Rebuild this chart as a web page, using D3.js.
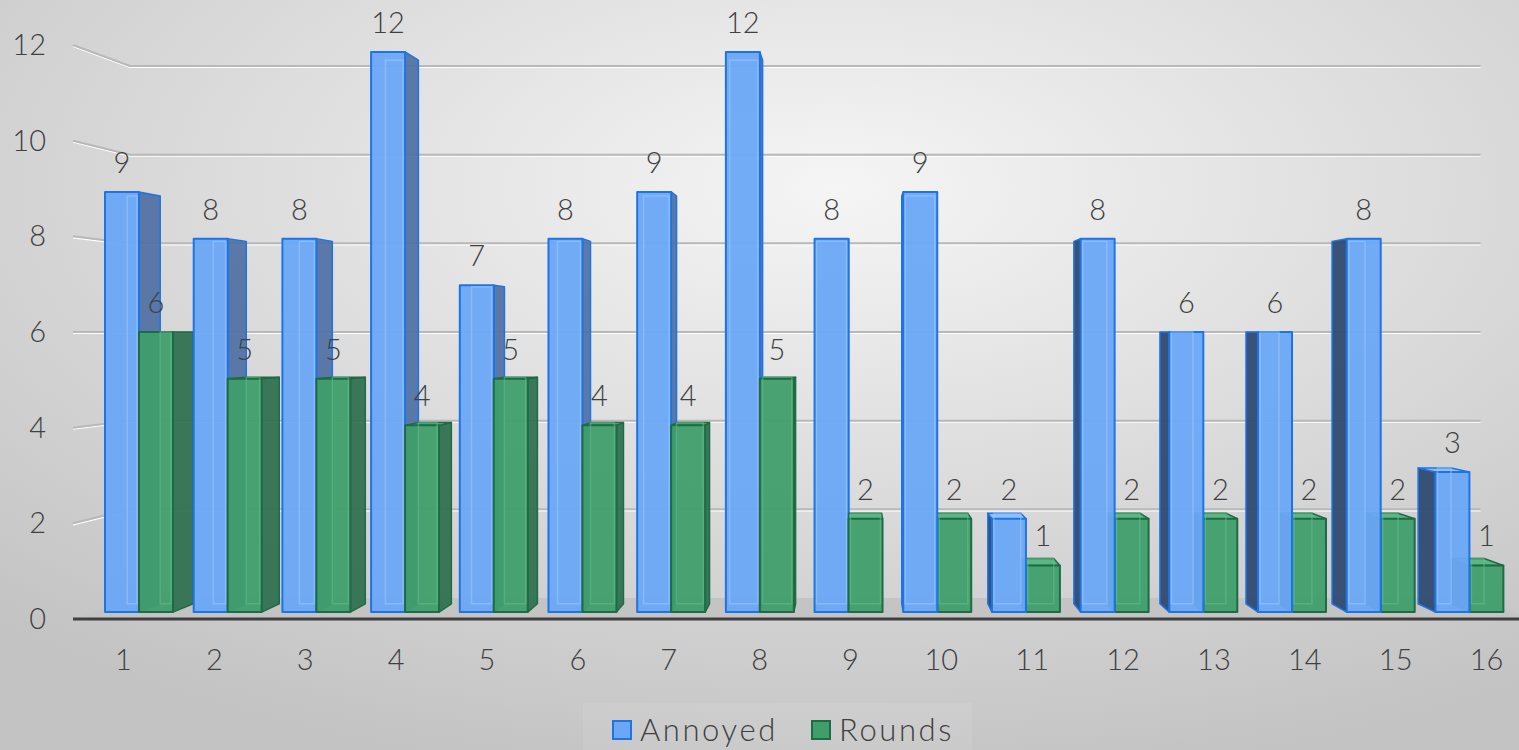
<!DOCTYPE html>
<html>
<head>
<meta charset="utf-8">
<script src="https://cdn.jsdelivr.net/npm/d3@7"></script>
<style>
  html, body { margin: 0; padding: 0; overflow: hidden; }
  svg { display: block; font-family: Lato, "Open Sans", sans-serif; font-weight: 300; }
</style>
</head>
<body>
<div id="chart"></div>
<script>

// input data
const categories = ['1', '2', '3', '4', '5', '6', '7', '8', '9', '10', '11', '12', '13', '14', '15', '16'];
const annoyed = [9, 8, 8, 12, 7, 8, 9, 12, 8, 9, 2, 8, 6, 6, 8, 3];
const rounds = [6, 5, 5, 4, 5, 4, 4, 5, 2, 2, 1, 2, 2, 2, 2, 1];
const seriesNames = ['Annoyed', 'Rounds'];
const yTicks = [0, 2, 4, 6, 8, 10, 12];

const width = 1519,
height = 750;

const svg = d3.select('#chart')
    .append('svg')
    .attr('width', width)
    .attr('height', height);

// background: soft radial grey
const defs = svg.append('defs');
const bg = defs.append('radialGradient')
    .attr('id', 'bg')
    .attr('cx', '55%')
    .attr('cy', '25%')
    .attr('r', '80%');
bg.append('stop').attr('offset', '0%').attr('stop-color', '#f5f5f5');
bg.append('stop').attr('offset', '100%').attr('stop-color', '#c3c3c3');

svg.append('rect')
    .attr('width', width)
    .attr('height', height)
    .attr('fill', 'url(#bg)');

// perspective: every point is pulled towards a vanishing point by a depth factor s
const VP = [853, 332];
const project = (wx, wy, s) => [VP[0] + (wx - VP[0]) * s, VP[1] + (wy - VP[1]) * s];
const poly = pts => 'M' + pts.map(p => p.join(',')).join('L') + 'Z';

const sFloorFront = 1, sFloorBack = 0.927;
const sBarFront = 0.976, sBarBack = 0.947;
const wallX = 73;

// scales in "world" coordinates (front plane)
const x = d3.scaleBand()
    .domain(categories)
    .range([76, 1530]);

const xSeries = d3.scaleBand()
    .domain(seriesNames)
    .range([0, x.bandwidth()])
    .paddingInner(0)
    .paddingOuter(0.305);

const y = d3.scaleLinear()
    .domain([0, 12])
    .range([619, 45]);

// FLOOR
svg.append('path')
    .attr('d', poly([
        project(wallX, y(0), sFloorFront),
        project(x.range()[1], y(0), sFloorFront),
        project(x.range()[1], y(0), sFloorBack),
        project(wallX, y(0), sFloorBack)
    ]))
    .attr('fill', '#c4c4c4');

// GRIDLINES: left wall segment + back wall
const grid = svg.append('g');
yTicks.filter(d => d > 0).forEach(t => {
    const pts = [
        project(wallX, y(t), sFloorFront),
        project(wallX, y(t), sFloorBack),
        project(x.range()[1], y(t), sFloorBack)
    ];
    grid.append('path')
        .attr('d', 'M' + pts.map(p => [p[0], p[1] + 1.5].join(',')).join('L'))
        .attr('fill', 'none')
        .attr('stroke', '#ffffff')
        .attr('stroke-width', 1.2);
    grid.append('path')
        .attr('d', 'M' + pts.map(p => p.join(',')).join('L'))
        .attr('fill', 'none')
        .attr('stroke', '#b8b8b8')
        .attr('stroke-width', 2);
});

// BARS
const styles = {
    Annoyed: { front: '#6aa8f7', stroke: '#1e74e6', sideR: '#4e70a3', sideL: '#2e4a72', top: '#8fc0fa', inner: '#9cc8ff' },
    Rounds: { front: '#3f9e6c', stroke: '#1f6b44', sideR: '#2d6f4d', sideL: '#245b3f', top: '#5bb585', inner: '#62c08e' }
};

const bars = [];
categories.forEach((c, i) => {
    [annoyed[i], rounds[i]].forEach((v, j) => {
        const name = seriesNames[j];
        const x0 = x(c) + xSeries(name);
        const x1 = x0 + xSeries.bandwidth();
        bars.push({ c, name, v, x0, x1 });
    });
});

// paint far-from-centre bars first so nearer ones cover their sides
bars.sort((a, b) => Math.abs((b.x0 + b.x1) / 2 - VP[0]) - Math.abs((a.x0 + a.x1) / 2 - VP[0]));

const gBars = svg.append('g');
bars.forEach(d => {
    const st = styles[d.name];
    const y0 = y(0), y1 = y(d.v);
    const g = gBars.append('g');

    // side face facing the vanishing point
    if (d.x1 < VP[0]) {
        g.append('path')
            .attr('d', poly([project(d.x1, y1, sBarFront), project(d.x1, y1, sBarBack), project(d.x1, y0, sBarBack), project(d.x1, y0, sBarFront)]))
            .attr('fill', st.sideR)
            .attr('fill-opacity', 0.92)
            .attr('stroke', st.stroke)
            .attr('stroke-width', 1.5)
            .attr('stroke-linejoin', 'round');
    } else if (d.x0 > VP[0]) {
        g.append('path')
            .attr('d', poly([project(d.x0, y1, sBarFront), project(d.x0, y1, sBarBack), project(d.x0, y0, sBarBack), project(d.x0, y0, sBarFront)]))
            .attr('fill', st.sideL)
            .attr('fill-opacity', 0.95)
            .attr('stroke', st.stroke)
            .attr('stroke-width', 1.5)
            .attr('stroke-linejoin', 'round');
    }

    // top face only visible when below the horizon
    if (y1 > VP[1]) {
        g.append('path')
            .attr('d', poly([project(d.x0, y1, sBarFront), project(d.x1, y1, sBarFront), project(d.x1, y1, sBarBack), project(d.x0, y1, sBarBack)]))
            .attr('fill', st.top)
            .attr('stroke', st.stroke)
            .attr('stroke-width', 1.5)
            .attr('stroke-linejoin', 'round');
    }

    // front face
    g.append('path')
        .attr('d', poly([project(d.x0, y1, sBarFront), project(d.x1, y1, sBarFront), project(d.x1, y0, sBarFront), project(d.x0, y0, sBarFront)]))
        .attr('fill', st.front)
        .attr('fill-opacity', 0.95)
        .attr('stroke', st.stroke)
        .attr('stroke-width', 2)
        .attr('stroke-linejoin', 'round');

    // back edges seen through the glassy front
    const bTL = project(d.x0, y1, sBarBack), bTR = project(d.x1, y1, sBarBack);
    const bBL = project(d.x0, y0, sBarBack), bBR = project(d.x1, y0, sBarBack);
    const fL = project(d.x0, y1, sBarFront)[0], fR = project(d.x1, y1, sBarFront)[0];
    const clamp = p => [Math.max(fL + 2, Math.min(fR - 2, p[0])), p[1]];
    g.append('path')
        .attr('d', poly([clamp(bTL), clamp(bTR), clamp(bBR), clamp(bBL)]))
        .attr('fill', 'none')
        .attr('stroke', st.inner)
        .attr('stroke-opacity', 0.55)
        .attr('stroke-width', 1.5);
});

// floor front edge
svg.append('line')
    .attr('x1', wallX)
    .attr('x2', width)
    .attr('y1', y(0))
    .attr('y2', y(0))
    .attr('stroke', '#3f3f3f')
    .attr('stroke-width', 3);

// VALUE LABELS
const labelFont = 29;
const gLabels = svg.append('g')
    .attr('fill', '#404040')
    .attr('font-size', labelFont)
    .attr('text-anchor', 'middle');

bars.forEach(d => {
    const [lx] = project((d.x0 + d.x1) / 2, y(d.v), sBarFront);
    const [, ly] = project(d.x0, y(d.v), sBarFront);
    gLabels.append('text')
        .attr('x', lx)
        .attr('y', ly - 19)
        .text(d.v);
});

// AXES LABELS
svg.append('g')
    .attr('fill', '#404040')
    .attr('font-size', labelFont)
    .attr('text-anchor', 'end')
    .selectAll('text')
    .data(yTicks)
    .enter()
    .append('text')
    .attr('x', 46)
    .attr('y', d => y(d) + 10)
    .text(d => d);

svg.append('g')
    .attr('fill', '#404040')
    .attr('font-size', labelFont)
    .attr('text-anchor', 'middle')
    .selectAll('text')
    .data(categories)
    .enter()
    .append('text')
    .attr('x', d => x(d) + x.bandwidth() / 2 + 2)
    .attr('y', 670)
    .text(d => d);

// LEGEND
const legend = svg.append('g');
legend.append('rect')
    .attr('x', 583)
    .attr('y', 703)
    .attr('width', 389)
    .attr('height', 47)
    .attr('fill', '#ffffff')
    .attr('fill-opacity', 0.08);

const legendX = [613, 812];
seriesNames.forEach((name, i) => {
    legend.append('rect')
        .attr('x', legendX[i])
        .attr('y', 721)
        .attr('width', 18)
        .attr('height', 18)
        .attr('fill', styles[name].front)
        .attr('stroke', styles[name].stroke)
        .attr('stroke-width', 2);
    legend.append('text')
        .attr('x', legendX[i] + 27)
        .attr('y', 741)
        .attr('fill', '#404040')
        .attr('font-size', 31)
        .attr('letter-spacing', 2.6)
        .text(name);
});

</script>
</body>
</html>
